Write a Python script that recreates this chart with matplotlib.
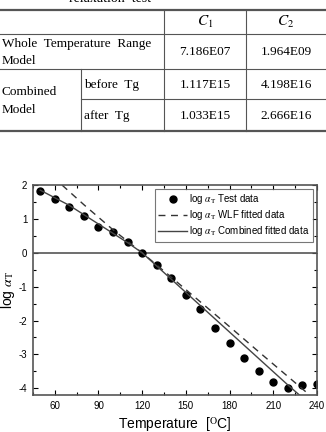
import numpy as np
import matplotlib.pyplot as plt

# table values
col_heads = ['$C_1$', '$C_2$']
whole_vals = ['7.186E07', '1.964E09']
before_vals = ['1.117E15', '4.198E16']
after_vals = ['1.033E15', '2.666E16']

# test data
temp = [50, 60, 70, 80, 90, 100, 110, 120, 130, 140, 150, 160, 170, 180, 190, 200, 210, 220, 230, 240]
log_at = [1.82, 1.6, 1.35, 1.1, 0.77, 0.6, 0.32, 0.0, -0.35, -0.75, -1.25, -1.65,
          -2.21, -2.67, -3.11, -3.5, -3.82, -4.0, -3.89, -3.87]

# fitted curves
wlf_t = [65, 80, 100, 120, 140, 160, 180, 200, 220, 235]
wlf_v = [2.0, 1.42, 0.68, 0.0, -0.72, -1.45, -2.18, -2.92, -3.65, -4.2]
comb_t = [50, 70, 90, 110, 120, 140, 160, 180, 200, 220, 228]
comb_v = [1.85, 1.4, 0.85, 0.3, 0.0, -0.78, -1.56, -2.34, -3.12, -3.9, -4.2]

plt.rcParams['mathtext.fontset'] = 'stix'
plt.rcParams['axes.unicode_minus'] = False
fig = plt.figure(figsize=(3.26, 4.32), dpi=100)

# ---- table drawn in pixel coordinates ----
tab = fig.add_axes([0, 0, 1, 1])
tab.set_xlim(0, 326)
tab.set_ylim(432, 0)
tab.axis('off')
lc = '#555555'
serif = 'Liberation Serif'
tab.text(110, -1, 'relaxation  test', ha='center', va='center', fontsize=10, family=serif)
tab.plot([0, 326], [10, 10], color=lc, lw=1.6)
tab.plot([0, 326], [131, 131], color=lc, lw=1.6)
tab.plot([0, 326], [34, 34], color=lc, lw=0.8)
tab.plot([0, 326], [69, 69], color=lc, lw=0.8)
tab.plot([81, 326], [99, 99], color=lc, lw=0.8)
tab.plot([164, 164], [10, 131], color=lc, lw=0.8)
tab.plot([246, 246], [10, 131], color=lc, lw=0.8)
tab.plot([81, 81], [69, 131], color=lc, lw=0.8)

fs = 9.5
for x, h in zip([205, 286], col_heads):
    tab.text(x, 22, h, ha='center', va='center', fontsize=11, family=serif)
tab.text(2, 44, 'Whole  Temperature  Range', va='center', fontsize=fs, family=serif)
tab.text(2, 61, 'Model', va='center', fontsize=fs, family=serif)
tab.text(2, 92, 'Combined', va='center', fontsize=fs, family=serif)
tab.text(2, 110, 'Model', va='center', fontsize=fs, family=serif)
tab.text(84, 85, 'before  Tg', va='center', fontsize=fs, family=serif)
tab.text(84, 116, 'after  Tg', va='center', fontsize=fs, family=serif)
for x, a, b, c in zip([205, 286], whole_vals, before_vals, after_vals):
    tab.text(x, 52, a, ha='center', va='center', fontsize=fs, family=serif)
    tab.text(x, 85, b, ha='center', va='center', fontsize=fs, family=serif)
    tab.text(x, 116, c, ha='center', va='center', fontsize=fs, family=serif)

# ---- chart ----
ax = fig.add_axes([0.101, 0.0856, 0.871, 0.486])
sans = 'Liberation Sans'
ax.axhline(0, color='#555555', lw=1.2)
ax.plot(temp, log_at, 'o', color='black', ms=5, label=r'log $\alpha_{\rm T}$ Test data')
ax.plot(wlf_t, wlf_v, '--', color='#333333', lw=1.0, dashes=(5, 4),
        label=r'log $\alpha_{\rm T}$ WLF fitted data')
ax.plot(comb_t, comb_v, '-', color='#444444', lw=1.0,
        label=r'log $\alpha_{\rm T}$ Combined fitted data')

ax.set_xlim(49, 240)
ax.set_ylim(-4.2, 2)
ax.set_xticks(np.arange(60, 241, 30))
ax.set_xticks(np.arange(45, 241, 15), minor=True)
ax.set_yticks(np.arange(-4, 3, 1))
ax.set_yticks(np.arange(-4, 2.1, 0.5), minor=True)
ax.tick_params(which='both', direction='in', top=True, right=True, labelsize=7, width=0.8)
ax.tick_params(which='major', length=3.5, pad=4)
ax.tick_params(which='minor', length=2)
for lab in ax.get_xticklabels() + ax.get_yticklabels():
    lab.set_family(sans)
for s in ax.spines.values():
    s.set_color('#555555')
    s.set_linewidth(1.2)
ax.set_xlabel(r'Temperature  [$^{\rm O}$C]', fontsize=10, family=sans, labelpad=3)
ax.set_ylabel(r'log $\alpha_{\rm T}$', fontsize=10, family=sans, labelpad=1)
leg = ax.legend(loc='upper right', frameon=True, fancybox=False, numpoints=1,
                edgecolor='#555555', handlelength=3.0, borderaxespad=0.4,
                labelspacing=0.2, handletextpad=0.2, borderpad=0.35,
                prop={'family': sans, 'size': 7})
leg.get_frame().set_linewidth(0.8)

fig.savefig('out.png', dpi=100)
